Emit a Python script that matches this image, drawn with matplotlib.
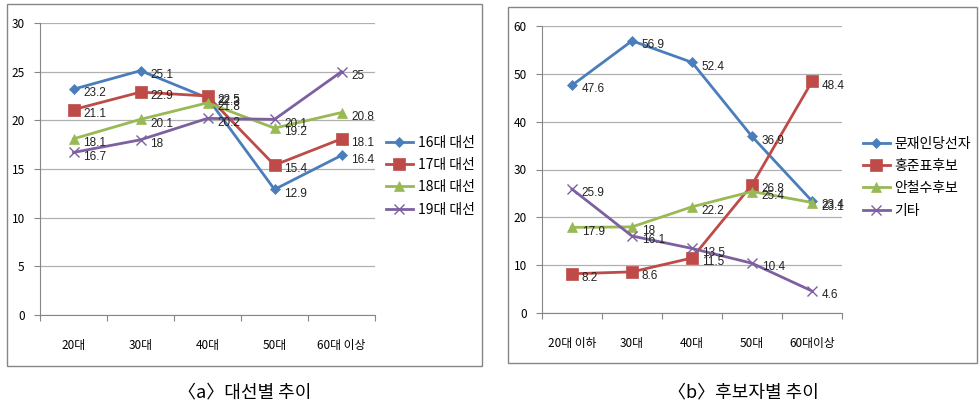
import matplotlib
matplotlib.use("Agg")
import matplotlib.pyplot as plt
from matplotlib.patches import Rectangle

plt.rcParams['font.family'] = ['Noto Sans CJK KR', 'DejaVu Sans']

# panel (a)
ages_a = ["20대", "30대", "40대", "50대", "60대 이상"]
names_a = ["16대 대선", "17대 대선", "18대 대선", "19대 대선"]
s16 = [23.2, 25.1, 22.3, 12.9, 16.4]
s17 = [21.1, 22.9, 22.5, 15.4, 18.1]
s18 = [18.1, 20.1, 21.8, 19.2, 20.8]
s19 = [16.7, 18, 20.2, 20.1, 25]

# panel (b)
ages_b = ["20대 이하", "30대", "40대", "50대", "60대이상"]
names_b = ["문재인당선자", "홍준표후보", "안철수후보", "기타"]
moon = [47.6, 56.9, 52.4, 36.9, 23.4]
hong = [8.2, 8.6, 11.5, 26.8, 48.4]
ahn = [17.9, 18, 22.2, 25.4, 23.1]
etc = [25.9, 16.1, 13.5, 10.4, 4.6]

colors = ["#4a7ebb", "#be4b48", "#98b954", "#7d60a0"]
markers = ["D", "s", "^", "x"]
msizes = [5, 8, 7, 7]

W, H = 980, 403
fig = plt.figure(figsize=(W / 100, H / 100), dpi=100)


def px_axes(x0, y0, x1, y1):
    return fig.add_axes([x0 / W, 1 - y1 / H, (x1 - x0) / W, (y1 - y0) / H])


def box(x0, y0, x1, y1):
    fig.add_artist(Rectangle((x0 / W, 1 - y1 / H), (x1 - x0) / W, (y1 - y0) / H,
                             transform=fig.transFigure, fill=False,
                             edgecolor="#868686", lw=1.0))


def draw(ax, cats, series, names, ymax, step, leg_x, leg_y):
    xs = list(range(len(cats)))
    handles = []
    for vals, c, m, ms in zip(series, colors, markers, msizes):
        h, = ax.plot(xs, vals, color=c, lw=2.0, marker=m, ms=ms,
                     mew=1.0 if m == "x" else 0.5, mec=c, mfc=c)
        handles.append(h)
        for x, v in zip(xs, vals):
            ax.annotate(f"{v:g}", (x, v), xytext=(7, -3), textcoords="offset points",
                        ha="left", va="center", fontsize=8.5, color="#222222",
                        family=["Liberation Sans", "DejaVu Sans"])
    ax.set_xlim(-0.5, len(cats) - 0.5)
    ax.set_ylim(0, ymax)
    ax.set_yticks(range(0, ymax + 1, step))
    ax.set_xticks([i - 0.5 for i in range(len(cats) + 1)])
    ax.set_xticklabels([])
    ax.set_xticks(xs, minor=True)
    ax.set_xticklabels(cats, minor=True, fontsize=8.5)
    ax.tick_params(axis="x", which="major", length=4, color="#868686")
    ax.tick_params(axis="x", which="minor", length=0, pad=17)
    ax.tick_params(axis="y", length=4, color="#868686", labelsize=8.5, pad=7)
    ax.grid(axis="y", color="#b0b0b0", lw=0.9)
    ax.set_axisbelow(True)
    for s in ["top", "right"]:
        ax.spines[s].set_visible(False)
    for s in ["left", "bottom"]:
        ax.spines[s].set_color("#868686")
    fig.legend(handles, names, loc="upper left",
               bbox_to_anchor=(leg_x / W, 1 - leg_y / H), frameon=False,
               fontsize=10, handlelength=2.0, handletextpad=0.3,
               labelspacing=0.6, borderaxespad=0)


box(7, 4, 482, 366)
ax1 = px_axes(40, 23, 375, 315)
draw(ax1, ages_a, [s16, s17, s18, s19], names_a, 30, 5, 380, 130)
fig.text(245 / W, 1 - 392 / H, "〈a〉대선별 추이", ha="center", va="center",
         fontsize=13)

box(508, 7, 977, 363)
ax2 = px_axes(542, 26, 842, 313)
draw(ax2, ages_b, [moon, hong, ahn, etc], names_b, 60, 10, 857, 131)
fig.text(743 / W, 1 - 392 / H, "〈b〉후보자별 추이", ha="center", va="center",
         fontsize=13)

fig.savefig("out.png", dpi=100)
